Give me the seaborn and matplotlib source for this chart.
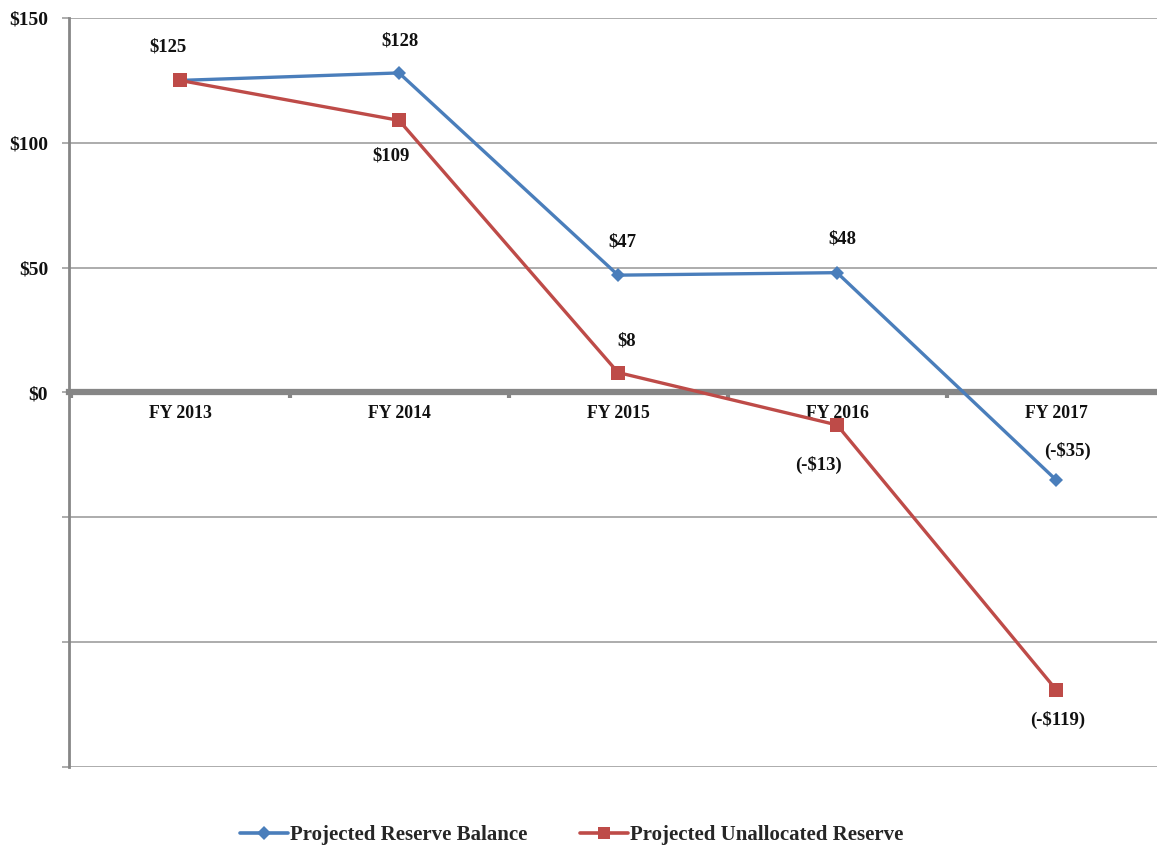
import matplotlib
matplotlib.use("Agg")
import matplotlib.pyplot as plt
from matplotlib.ticker import FixedLocator, FuncFormatter
import seaborn as sns
import pandas as pd

years = ["FY 2013", "FY 2014", "FY 2015", "FY 2016", "FY 2017"]
reserve_balance = [125, 128, 47, 48, -35]
unallocated_reserve = [125, 109, 8, -13, -119]
balance_labels = ["$125", "$128", "$47", "$48", "(-$35)"]
unallocated_labels = [None, "$109", "$8", "(-$13)", "(-$119)"]

BLUE = "#4A7EBB"
RED = "#BE4B48"
GREY = "#868686"
FONT = "Liberation Serif"

sns.set_theme(style="white")
plt.rcParams["font.family"] = [FONT, "DejaVu Serif"]
plt.rcParams["font.weight"] = "bold"

fig = plt.figure(figsize=(11.57, 8.46), dpi=100)
ax = fig.add_axes([69 / 1157, 79 / 846, 1 - 69 / 1157, 749 / 846])

idx = list(range(len(years)))
df = pd.DataFrame({"x": idx + idx,
                   "value": reserve_balance + unallocated_reserve,
                   "series": ["Projected Reserve Balance"] * 5 + ["Projected Unallocated Reserve"] * 5})

sns.lineplot(data=df, x="x", y="value", hue="series", style="series",
             markers={"Projected Reserve Balance": "D", "Projected Unallocated Reserve": "s"},
             dashes=False, palette={"Projected Reserve Balance": BLUE, "Projected Unallocated Reserve": RED},
             linewidth=2.4, markersize=8, markeredgewidth=0, ax=ax, legend=False, zorder=5)
# larger square markers for the red series
for line in ax.get_lines():
    if line.get_marker() == "s":
        line.set_markersize(10)
    else:
        line.set_markersize(7)

# y axis: gridlines every 50, labels only for non-negative values
ax.yaxis.set_major_locator(FixedLocator([-150, -100, -50, 0, 50, 100, 150]))
ax.yaxis.set_major_formatter(FuncFormatter(lambda v, p: f"${int(v)}" if v >= 0 else ""))
ax.grid(axis="y", color="#A6A6A6", linewidth=1.3, zorder=0)
ax.grid(axis="x", visible=False)
ax.tick_params(axis="y", which="major", length=5, width=1.3, color="#A6A6A6",
               labelsize=14, pad=10, left=True)

# category axis sitting on the zero line
ax.spines["bottom"].set_position(("data", 0))
ax.spines["bottom"].set_color(GREY)
ax.spines["bottom"].set_linewidth(4.5)
ax.spines["bottom"].set_zorder(3)
ax.set_xticks(idx)
ax.set_xticklabels(years)
ax.set_xticks([0.5 + i for i in range(-1, 5)], minor=True)
ax.tick_params(axis="x", which="major", length=0, labelsize=12.8, pad=9)
ax.tick_params(axis="x", which="minor", length=4, width=3, color=GREY, bottom=True)
for t in ax.get_xticklabels() + ax.get_yticklabels():
    t.set_fontweight("bold")
    t.set_color("#111111")

ax.set_xlim(-0.507, 4.461)
ax.set_ylim(-150, 150)

ax.spines["left"].set_color(GREY)
ax.spines["left"].set_linewidth(2)
ax.spines["top"].set_visible(False)
ax.spines["right"].set_visible(False)
ax.set_xlabel("")
ax.set_ylabel("")

# data labels (offsets in points)
bal_off = [(-9, 24), (1, 23), (3, 24), (4, 24), (8, 21)]
una_off = [None, (-6, -26), (6, 23), (-13, -29), (1, -22)]
for i, (v, lab) in enumerate(zip(reserve_balance, balance_labels)):
    ax.annotate(lab, (i, v), xytext=bal_off[i], textcoords="offset points",
                ha="center", va="center", fontsize=13.5, fontweight="bold", color="#111111")
for i, (v, lab) in enumerate(zip(unallocated_reserve, unallocated_labels)):
    if lab is None:
        continue
    ax.annotate(lab, (i, v), xytext=una_off[i], textcoords="offset points",
                ha="center", va="center", fontsize=13.5, fontweight="bold", color="#111111")

handles = [plt.Line2D([], [], color=BLUE, marker="D", markersize=7, linewidth=2.6, markeredgewidth=0),
           plt.Line2D([], [], color=RED, marker="s", markersize=9, linewidth=2.6, markeredgewidth=0)]
fig.legend(handles, ["Projected Reserve Balance", "Projected Unallocated Reserve"],
           loc="center", bbox_to_anchor=(0.494, 0.013), ncol=2, frameon=False,
           prop={"family": FONT, "weight": "bold", "size": 15},
           handlelength=2.3, handletextpad=0.1, columnspacing=2.5)

fig.savefig("out.png", dpi=100)
